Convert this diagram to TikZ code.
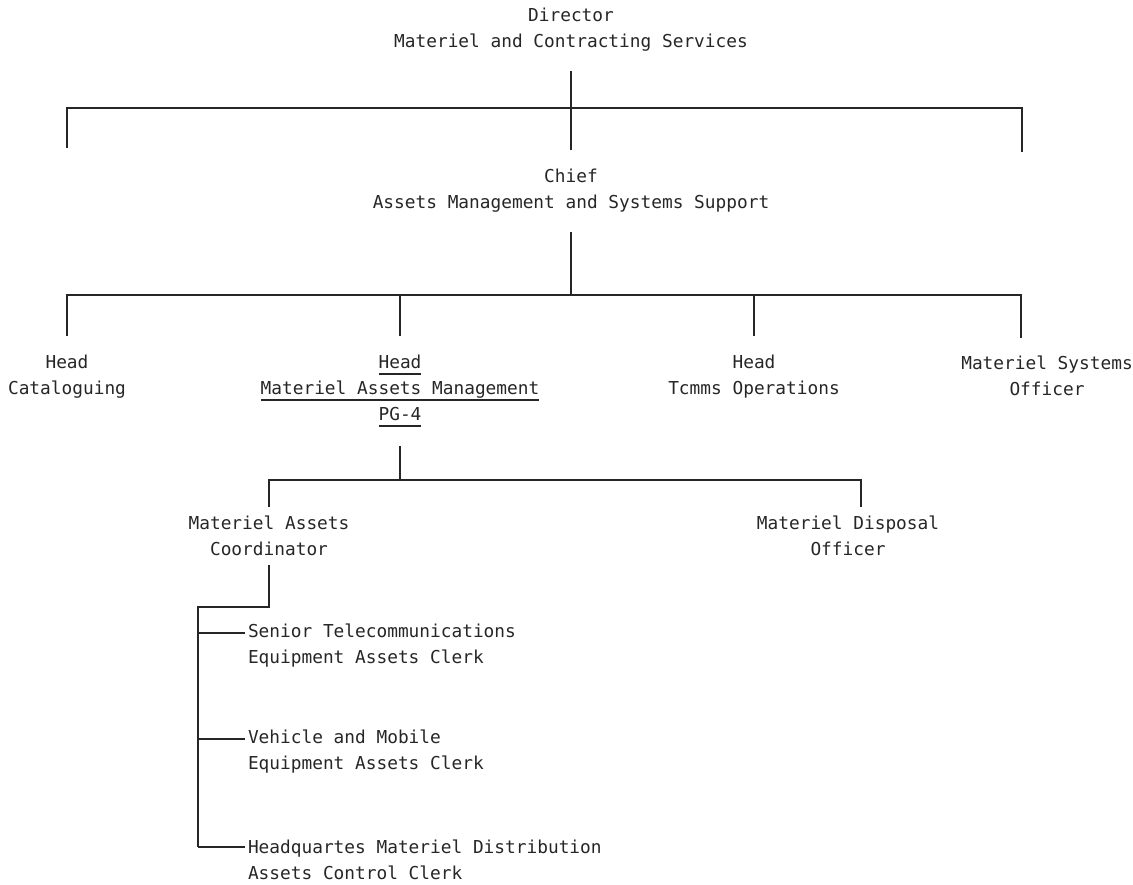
\documentclass[tikz,border=0pt]{standalone}
\usepackage{fontspec}
\setmonofont{DejaVu Sans Mono}
\usepackage{tikz}
\newcommand{\ulbar}[1]{\setbox0\hbox{#1}\rlap{\rule[-3pt]{\wd0}{1pt}}\box0}

\begin{document}
\begin{tikzpicture}[x=0.5pt, y=-0.5pt, line width=1pt, color=black!85,
  post/.style = {align=center, inner xsep=1pt, inner ysep=9pt, font=\ttfamily\fontsize{8.9}{13}\selectfont},
  clerk/.style = {post, align=left, anchor=west, inner ysep=2pt}]
\useasboundingbox (0,0) rectangle (1133,884);

% top levels
\node[post] (dir) at (571,30) {Director\\Materiel and Contracting Services};
\node[post] (chief) at (571,191) {Chief\\Assets Management and Systems Support};
\coordinate (bus1) at (571,108);
\coordinate (lft) at (67,148);
\coordinate (rgt) at (1022,152);
\draw (dir) -- (chief);
\draw (lft) |- (bus1) -| (rgt);

% heads
\node[post] (cat) at (67,377) {Head\\Cataloguing};
\node[post] (mam) at (400,391) {\ulbar{Head}\\\ulbar{Materiel Assets Management}\\\ulbar{PG-4}};
\node[post] (tcm) at (754,377) {Head\\Tcmms Operations};
\node[post] (mso) at (1047,376) {Materiel Systems\\Officer};
\coordinate (bus2) at (571,295);
\coordinate (msoin) at (1021,338);
\draw (chief) -- (bus2);
\draw (cat) |- (bus2) -| (msoin);
\draw (mam) -- (mam |- bus2);
\draw (tcm) -- (tcm |- bus2);

% under PG-4
\node[post, inner ysep=4pt] (mac) at (269,536) {Materiel Assets\\Coordinator};
\node[post, inner ysep=4pt] (mdo) at (848,536) {Materiel Disposal\\Officer};
\coordinate (bus3) at (400,480);
\draw (mam) -- (bus3);
\draw (mac) |- (bus3) -| ([xshift=6.5pt]mdo.north);

% clerks
\node[clerk] (tel) at (245,646) {Senior Telecommunications\\Equipment Assets Clerk};
\node[clerk] (veh) at (245,752) {Vehicle and Mobile\\Equipment Assets Clerk};
\node[clerk] (hq) at (245,860) {Headquartes Materiel Distribution\\Assets Control Clerk};
\coordinate (spine) at (198,607);
\coordinate (c1) at (198,633);
\coordinate (c2) at (198,739);
\coordinate (c3) at (198,847);
\draw (mac) |- (spine) -- (c3);
\foreach \c/\n in {c1/tel, c2/veh, c3/hq}
  \draw (\c) -- (\c -| \n.west);
\end{tikzpicture}
\end{document}
